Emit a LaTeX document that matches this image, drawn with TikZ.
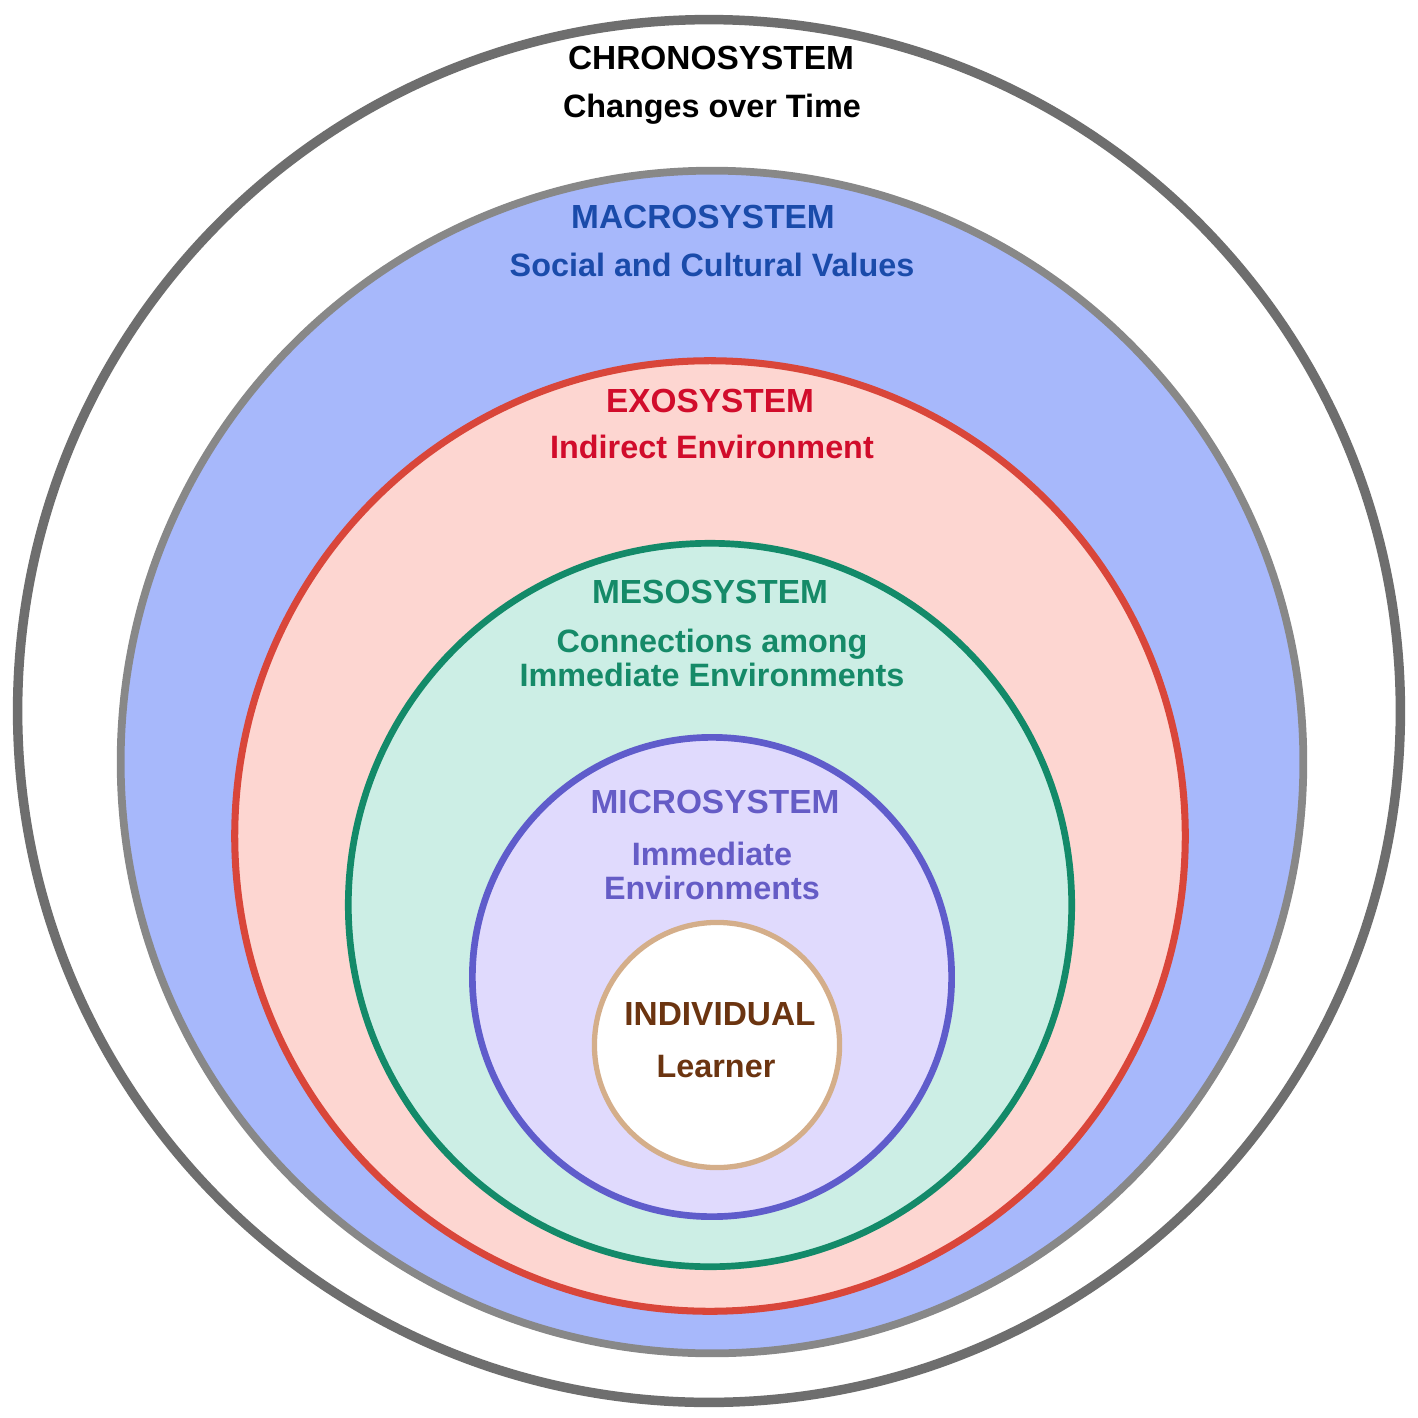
\documentclass[tikz,border=0pt]{standalone}
\usepackage{fontspec}
\setmainfont{Liberation Sans}
\usepackage{tikz}

\definecolor{chronoline}{HTML}{6E6E6E}
\definecolor{macroline}{HTML}{888888}
\definecolor{macrofill}{HTML}{A7B8FB}
\definecolor{macrotext}{HTML}{1A4BAA}
\definecolor{exoline}{HTML}{D9463A}
\definecolor{exofill}{HTML}{FDD6D1}
\definecolor{exotext}{HTML}{D10C2B}
\definecolor{mesoline}{HTML}{138A69}
\definecolor{mesofill}{HTML}{CCEEE5}
\definecolor{mesotext}{HTML}{158A68}
\definecolor{microline}{HTML}{5F5CCB}
\definecolor{microfill}{HTML}{E0DAFD}
\definecolor{microtext}{HTML}{655CC6}
\definecolor{indivline}{HTML}{D4AE8A}
\definecolor{indivtext}{HTML}{6B3410}

\begin{document}
\begin{tikzpicture}[x=0.01cm, y=-0.01cm,
    ring/.style={draw, circle, inner sep=0pt},
    lbl/.style={inner sep=0pt, anchor=base, align=center,
      font=\bfseries\fontsize{9.2}{9.4}\selectfont},
    ttl/.style={lbl, font=\bfseries\fontsize{9.5}{9.5}\selectfont}]
  \fill[white] (0,0) rectangle (1418,1418);
  % rings, outside in
  \node[ring, minimum size=13.82cm, draw=chronoline, line width=2.7pt](chrono) at (709,711) {};
  \node[ring, minimum size=11.82cm, draw=macroline, fill=macrofill, line width=2.2pt](macro) at (712,762) {};
  \node[ring, minimum size=9.50cm, draw=exoline, fill=exofill, line width=2pt](exo) at (710,836) {};
  \node[ring, minimum size=7.23cm, draw=mesoline, fill=mesofill, line width=1.9pt](meso) at (710,905) {};
  \node[ring, minimum size=4.79cm, draw=microline, fill=microfill, line width=1.9pt](micro) at (712,977) {};
  \node[ring, minimum size=2.45cm, draw=indivline, fill=white, line width=1.5pt](indiv) at (717,1045) {};
  % labels (base of last line)
  \node[ttl](chronotitle) at (711,70) {CHRONOSYSTEM};
  \node[lbl](chronosub) at (712,117) {Changes over Time};
  \node[ttl, text=macrotext](macrotitle) at (703,228) {MACROSYSTEM};
  \node[lbl, text=macrotext](macrosub) at (712,276) {Social and Cultural Values};
  \node[ttl, text=exotext](exotitle) at (710,412) {EXOSYSTEM};
  \node[lbl, text=exotext](exosub) at (712,458) {Indirect Environment};
  \node[ttl, text=mesotext](mesotitle) at (710,603) {MESOSYSTEM};
  \node[lbl, text=mesotext](mesosub) at (712,686) {Connections among\\Immediate Environments};
  \node[ttl, text=microtext](microtitle) at (715,813) {MICROSYSTEM};
  \node[lbl, text=microtext](microsub) at (712,899) {Immediate\\Environments};
  \node[ttl, text=indivtext](indivtitle) at (720,1025) {INDIVIDUAL};
  \node[lbl, text=indivtext](indivsub) at (716,1077) {Learner};
\end{tikzpicture}
\end{document}
